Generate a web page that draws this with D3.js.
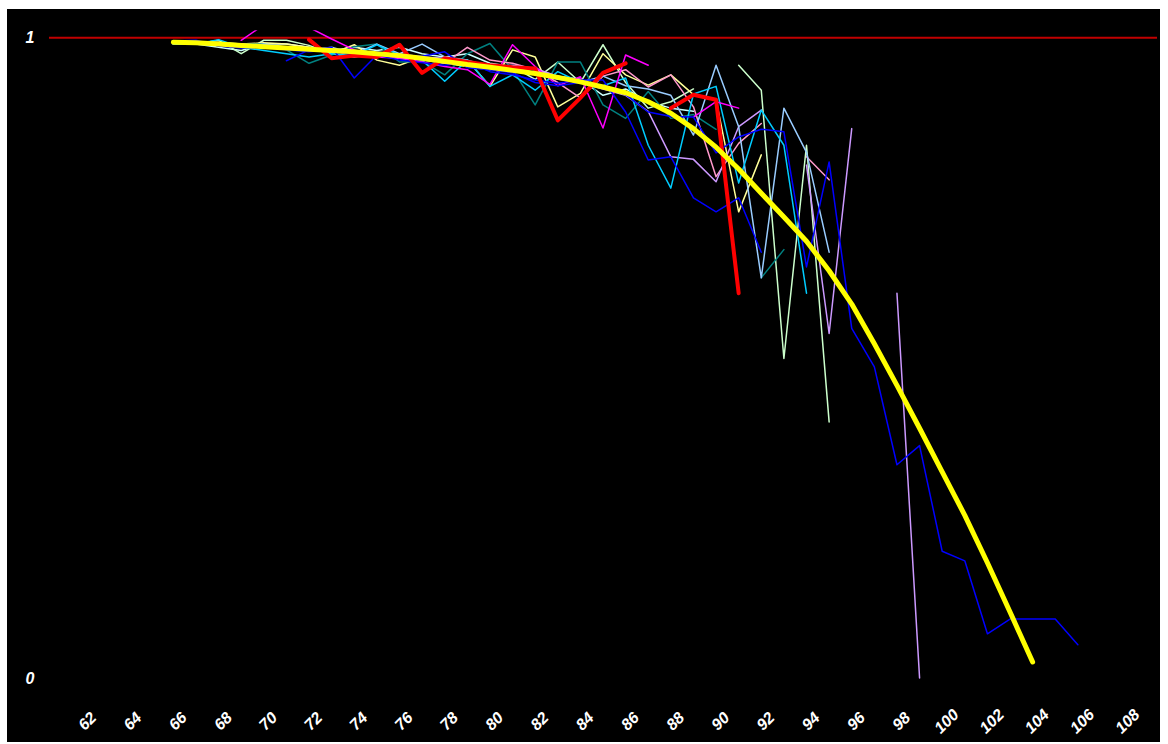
<!DOCTYPE html>
<html>
<head>
<meta charset="utf-8">
<script src="https://cdn.jsdelivr.net/npm/d3@7"></script>
<style>
  body { margin: 0; background: #fff; }
  text { font-family: "Liberation Sans", Arial, sans-serif; }
</style>
</head>
<body>
<div id="chart"></div>
<script>
// categories (ages) and tick labels
var firstCat = 61, lastCat = 109;
var xTickLabels = [62, 64, 66, 68, 70, 72, 74, 76, 78, 80, 82, 84, 86, 88, 90, 92, 94, 96, 98, 100, 102, 104, 106, 108];
var yTickLabels = [0, 1];
var yMax = 1.0115;

// each series: first category, then one value per category (null = gap)
var blueAStart = 66;
var blueA = [.995, .996, .987, .984, .985, .981, .978, .981, .973, .978, .973, .971, .978, .953, .950, .945, .930, .925, .930, .925, .911, .884, .877, .876, .820, .845, .857, .853, .642, .806, .546, .486, .333, .363, .198, .183, .069, .092, .092, .092, .052];
var blueBStart = 71;
var blueB = [.964, .981, .985, .937, .973, .965, .961, .957, .962, .947, .942, .934, .929, .934, .934, .884, .809, .814, .750, .728, .750, .665];
var magentaStart = 69;
var magenta = [.996, 1.02, 1.03, 1.016, .998, .981, .970, .968, .962, .955, .950, .927, .989, .955, .925, .939, .859, .973, .957, null, .876, .900, .890];
var cyanStart = 66;
var cyan = [.99, .99, .997, .985, .980, .975, .970, .975, .972, .989, .973, .965, .932, .965, .924, .942, .918, .947, .930, .925, .937, .832, .765, .912, .924, .773, .887, .832, .601];
var tealStart = 66;
var teal = [.99, .99, .99, .99, .99, .981, .960, .973, .986, .990, .962, .963, .942, .975, .991, .950, .895, .962, .962, .895, .874, .916, .874, .880, .857, null, .625, .669];
var lightYellowStart = 66;
var lightYellow = [.99, .99, .993, .99, .992, .99, .985, .975, .989, .965, .957, .970, .962, .965, .924, .981, .970, .892, .913, .975, .942, .926, .942, .911, .903, .728, .817];
var paleGreenStart = 66;
var paleGreen = [.99, .99, .996, .975, .996, .996, .988, .975, .970, .975, .968, .965, .960, .955, .950, .955, .935, .962, .930, .989, .930, .890, .900, .920, null, .957, .918, .499, .832, .400];
var paleBlueStart = 66;
var paleBlue = [.99, .99, .99, .985, .99, .985, .98, .985, .975, .990, .975, .990, .970, .965, .955, .955, .945, .935, .930, .940, .925, .920, .910, .848, .957, .861, .625, .890, .821, .665];
var roseStart = 66;
var rose = [.99, .99, .99, .99, .985, .985, .98, .978, .975, .975, .972, .970, .960, .985, .965, .960, .950, .930, .906, .940, .950, .923, .942, .892, .783, .835, .866, null, .814, .778];
var lavenderStart = 66;
var lavender = [.99, .99, .99, .99, .988, .985, .98, .978, .975, .975, .975, .970, .968, .962, .955, .957, .952, .940, .930, .920, .910, .885, .814, .810, .775, .861, .887, null, .801, .538, .858, null, .601, 0];
var turquoiseStart = 66;
var turquoise = [.995, .99, .985, .98, .99, .99, .985, .98, .985, .98, .985, .975, .97, .975, .96, .955, .95, .94, .935, .91, .92, .90, .89, .885];
var redStart = 72;
var red = [.997, .968, .972, .970, .989, .945, .968, .962, .957, .954, .952, .871, .906, .945, .960, null, .890, .911, .903, .601];
var fitStart = 66;
var fit = [.993, .992, .990, .988, .986, .984, .982, .980, .978, .975, .972, .968, .963, .958, .954, .949, .944, .938, .931, .923, .914, .900, .882, .858, .829, .795, .757, .720, .682, .636, .584, .522, .457, .390, .322, .254, .180, .103, .025];

var series = [
    { start: turquoiseStart, values: turquoise, color: "#ccffff", width: 1.5 },
    { start: paleGreenStart, values: paleGreen, color: "#ccffcc", width: 1.5 },
    { start: lightYellowStart, values: lightYellow, color: "#ffff99", width: 1.5 },
    { start: tealStart, values: teal, color: "#008080", width: 1.5 },
    { start: roseStart, values: rose, color: "#ff99cc", width: 1.5 },
    { start: lavenderStart, values: lavender, color: "#cc99ff", width: 1.5 },
    { start: paleBlueStart, values: paleBlue, color: "#99ccff", width: 1.5 },
    { start: cyanStart, values: cyan, color: "#00ccff", width: 1.5 },
    { start: magentaStart, values: magenta, color: "#ff00ff", width: 1.5 },
    { start: blueBStart, values: blueB, color: "#0000ff", width: 1.5 },
    { start: blueAStart, values: blueA, color: "#0000ff", width: 1.5 },
    { start: redStart, values: red, color: "#ff0000", width: 4 },
    { start: fitStart, values: fit, color: "#ffff00", width: 5 }
];

var svgWidth = 1168;
var svgHeight = 744;

var svg = d3.select("#chart")
    .append("svg")
    .attr("width", svgWidth)
    .attr("height", svgHeight);

// chart area
svg.append("rect")
    .attr("x", 7)
    .attr("y", 9)
    .attr("width", 1153)
    .attr("height", 733)
    .attr("fill", "#000");

var plot = { left: 49, right: 1157, bottom: 678 };

var xScale = d3.scaleLinear()
    .domain([firstCat - 0.5, lastCat + 0.5])
    .range([plot.left, plot.right]);

var yScale = d3.scaleLinear()
    .domain([0, 1])
    .range([plot.bottom, 37.7]);

svg.append("clipPath")
    .attr("id", "plotClip")
    .append("rect")
    .attr("x", plot.left)
    .attr("y", yScale(yMax))
    .attr("width", plot.right - plot.left)
    .attr("height", plot.bottom + 3 - yScale(yMax));

// reference line at 1
svg.append("line")
    .attr("x1", plot.left)
    .attr("x2", plot.right)
    .attr("y1", yScale(1))
    .attr("y2", yScale(1))
    .attr("stroke", "#c00000")
    .attr("stroke-width", 2);

var lineGen = d3.line()
    .defined(d => d.v !== null)
    .x(d => xScale(d.x))
    .y(d => yScale(d.v));

var linesGroup = svg.append("g").attr("clip-path", "url(#plotClip)");

series.forEach(function (s) {
    var pts = s.values.map((v, i) => ({ x: s.start + i, v: v }));
    linesGroup.append("path")
        .datum(pts)
        .attr("d", lineGen)
        .attr("fill", "none")
        .attr("stroke", s.color)
        .attr("stroke-width", s.width)
        .attr("stroke-linejoin", "round")
        .attr("stroke-linecap", "round");
});

// y labels
svg.selectAll(".ylab")
    .data(yTickLabels)
    .enter()
    .append("text")
    .attr("class", "ylab")
    .attr("x", 30)
    .attr("y", d => yScale(d))
    .attr("dy", "0.36em")
    .attr("text-anchor", "middle")
    .attr("fill", "#fff")
    .attr("font-size", "16px")
    .attr("font-weight", "bold")
    .attr("font-style", "italic")
    .text(d => d);

// x labels, rotated
svg.selectAll(".xlab")
    .data(xTickLabels)
    .enter()
    .append("text")
    .attr("class", "xlab")
    .attr("transform", d => `translate(${xScale(d) + 4}, 721) rotate(-45)`)
    .attr("dy", "0.36em")
    .attr("text-anchor", "middle")
    .attr("fill", "#fff")
    .attr("font-size", "16px")
    .attr("font-weight", "bold")
    .attr("font-style", "italic")
    .text(d => d);
</script>
</body>
</html>
